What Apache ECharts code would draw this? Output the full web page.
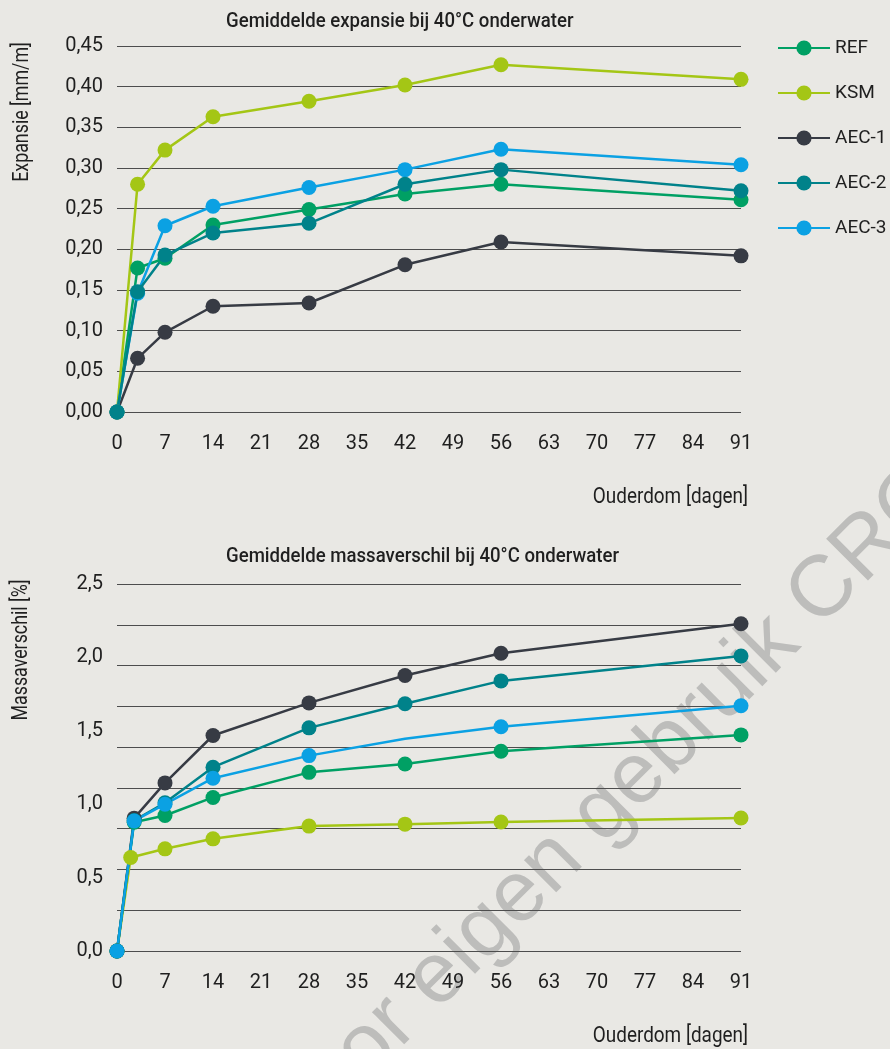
<!DOCTYPE html>
<html><head><meta charset="utf-8">
<script src="https://cdn.jsdelivr.net/npm/echarts@6/dist/echarts.min.js"></script>
<style>html,body{margin:0;padding:0;background:#e9e8e4}#c{width:890px;height:1049px}</style>
</head><body><div id="c"></div>
<script>
// ---- data ----
const seriesNames = ['REF', 'KSM', 'AEC-1', 'AEC-2', 'AEC-3'];
const xTickInterval = 7;
const xMax = 91;

const expDays = [0, 3, 7, 14, 28, 42, 56, 91];
const expREF  = [0, 0.177, 0.189, 0.230, 0.249, 0.268, 0.280, 0.261];
const expKSM  = [0, 0.280, 0.322, 0.363, 0.382, 0.402, 0.427, 0.409];
const expAEC1 = [0, 0.066, 0.098, 0.130, 0.134, 0.181, 0.209, 0.192];
const expAEC2 = [0, 0.148, 0.193, 0.220, 0.232, 0.280, 0.298, 0.272];
const expAEC3 = [0, 0.146, 0.229, 0.253, 0.276, 0.298, 0.323, 0.304];

const massDays    = [0, 2.5, 7, 14, 28, 42, 56, 91];
const massDaysKSM = [0, 2, 7, 14, 28, 42, 56, 91];
const massREF  = [0, 0.877, 0.923, 1.046, 1.217, 1.274, 1.361, 1.472];
const massKSM  = [0, 0.637, 0.696, 0.764, 0.851, 0.864, 0.879, 0.906];
const massAEC1 = [0, 0.905, 1.145, 1.468, 1.690, 1.877, 2.028, 2.229];
const massAEC2 = [0, 0.889, 1.010, 1.252, 1.520, 1.684, 1.840, 2.010];
const massAEC3 = [0, 0.886, 1.000, 1.177, 1.331, 1.446, 1.528, 1.671];
const massAEC3NoMarkerDays = [42];

// ---- style ----
const colors = {'REF':'#00a064','KSM':'#a4c615','AEC-1':'#373b44','AEC-2':'#00828a','AEC-3':'#0ba1e3'};
const FF = 'Roboto, sans-serif';
const TXT = '#1f1f1f';

function pairs(days, vals, noMarker) {
  return days.map((d, i) => {
    const item = {value: [d, vals[i]]};
    if (noMarker && noMarker.indexOf(d) >= 0) item.symbol = 'none';
    return item;
  });
}
function line(name, data, gi, yi) {
  return {
    name, type: 'line', xAxisIndex: gi, yAxisIndex: yi, data,
    symbol: 'circle', symbolSize: 15, showAllSymbol: true,
    lineStyle: {width: 2.5, color: colors[name]},
    itemStyle: {color: colors[name]},
    emphasis: {disabled: true}
  };
}
const topSeries = [
  line('REF', pairs(expDays, expREF), 0, 0),
  line('KSM', pairs(expDays, expKSM), 0, 0),
  line('AEC-1', pairs(expDays, expAEC1), 0, 0),
  line('AEC-3', pairs(expDays, expAEC3), 0, 0),
  line('AEC-2', pairs(expDays, expAEC2), 0, 0)
];
const botSeries = [
  line('REF', pairs(massDays, massREF), 1, 1),
  line('KSM', pairs(massDaysKSM, massKSM), 1, 1),
  line('AEC-1', pairs(massDays, massAEC1), 1, 1),
  line('AEC-2', pairs(massDays, massAEC2), 1, 1),
  line('AEC-3', pairs(massDays, massAEC3, massAEC3NoMarkerDays), 1, 1)
];

function xAx(gi) {
  return {
    gridIndex: gi, type: 'value', min: 0, max: xMax, interval: xTickInterval,
    axisLine: {show: false}, axisTick: {show: false}, splitLine: {show: false},
    axisLabel: {fontSize: 20, color: TXT, fontFamily: FF, margin: 22}
  };
}
const gridLine = {show: true, lineStyle: {color: '#4d4d4d', width: 1}};

const chart = echarts.init(document.getElementById('c'));
chart.setOption({
  animation: false,
  backgroundColor: '#e9e8e4',
  grid: [
    {left: 117, top: 46, width: 624, height: 366},
    {left: 117, top: 584, width: 624, height: 367}
  ],
  xAxis: [xAx(0), xAx(1)],
  yAxis: [
    {gridIndex: 0, type: 'value', min: 0, max: 0.45, interval: 0.05,
     axisLine: {show: false}, axisTick: {show: false}, splitLine: gridLine,
     axisLabel: {fontSize: 20, color: TXT, fontFamily: FF, margin: 14,
       formatter: v => v.toFixed(2).replace('.', ',')}},
    {gridIndex: 1, type: 'value', min: 0, max: 2.5, interval: 0.5,
     axisLine: {show: false}, axisTick: {show: false}, splitLine: {show: false},
     axisLabel: {fontSize: 20, color: TXT, fontFamily: FF, margin: 14,
       formatter: v => v.toFixed(1).replace('.', ',')}},
    {gridIndex: 1, type: 'value', min: 0, max: 9, interval: 1, position: 'left',
     axisLine: {show: false}, axisTick: {show: false}, axisLabel: {show: false},
     splitLine: gridLine}
  ],
  legend: {
    data: seriesNames, orient: 'vertical', left: 777, top: 37, padding: 0,
    itemWidth: 52, itemHeight: 19, itemGap: 23,
    textStyle: {fontSize: 19, color: TXT, fontFamily: FF, lineHeight: 22}
  },
  graphic: [
    {type: 'text', x: 640, y: 775, rotation: 45 * Math.PI / 180, z: -1, silent: true, style: {text: 'voor eigen gebruik CROW',
      font: '86px "Liberation Sans", Arial, sans-serif', fill: '#bdbdbb', align: 'center', verticalAlign: 'middle'}},
    {type: 'text', x: 226, y: 22, z: 10, scaleX: 0.93, style: {text: 'Gemiddelde expansie bij 40°C onderwater',
      font: '500 20px ' + FF, fill: TXT, verticalAlign: 'middle'}},
    {type: 'text', x: 226, y: 557, z: 10, scaleX: 0.93, style: {text: 'Gemiddelde massaverschil bij 40°C onderwater',
      font: '500 20px ' + FF, fill: TXT, verticalAlign: 'middle'}},
    {type: 'text', x: 22, y: 112, rotation: Math.PI / 2, scaleX: 0.81, z: 10, style: {text: 'Expansie [mm/m]',
      font: '22px ' + FF, fill: TXT, align: 'center', verticalAlign: 'middle'}},
    {type: 'text', x: 21, y: 650, rotation: Math.PI / 2, scaleX: 0.81, z: 10, style: {text: 'Massaverschil [%]',
      font: '22px ' + FF, fill: TXT, align: 'center', verticalAlign: 'middle'}},
    {type: 'text', x: 748, y: 497, scaleX: 0.86, z: 10, style: {text: 'Ouderdom [dagen]',
      font: '22px ' + FF, fill: TXT, align: 'right', verticalAlign: 'middle'}},
    {type: 'text', x: 748, y: 1036, scaleX: 0.86, z: 10, style: {text: 'Ouderdom [dagen]',
      font: '22px ' + FF, fill: TXT, align: 'right', verticalAlign: 'middle'}}
  ],
  series: topSeries.concat(botSeries)
});
</script></body></html>
